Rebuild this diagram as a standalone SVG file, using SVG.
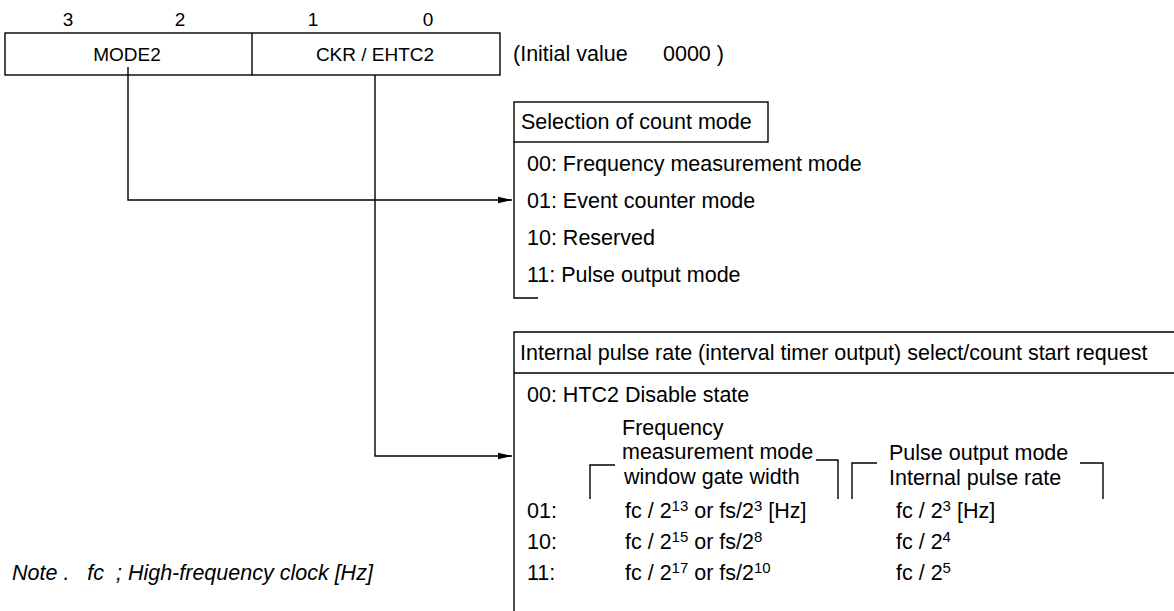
<svg xmlns="http://www.w3.org/2000/svg" width="1174" height="611" viewBox="0 0 1174 611">
<style>
text{font-family:"Liberation Sans",Arial,sans-serif;fill:#000;font-size:21.5px}
.reg{font-size:19px}
.it{font-style:italic}
.ln{fill:none;stroke:#000;stroke-width:1.4}
</style>
<defs>
<marker id="ah" markerWidth="14" markerHeight="8" refX="14" refY="4" orient="auto" markerUnits="userSpaceOnUse">
<path d="M0,0.8 L14,4 L0,7.2 Z" fill="#000"/>
</marker>
</defs>
<rect width="1174" height="611" fill="#fff"/>

<g id="register">
<text class="reg" x="68" y="26" text-anchor="middle">3</text>
<text class="reg" x="180" y="26" text-anchor="middle">2</text>
<text class="reg" x="313" y="26" text-anchor="middle">1</text>
<text class="reg" x="428" y="26" text-anchor="middle">0</text>
<rect class="ln" x="5" y="33" width="495" height="42"/>
<line class="ln" x1="252" y1="33" x2="252" y2="75"/>
<text class="reg" x="127" y="61" text-anchor="middle">MODE2</text>
<text class="reg" x="375" y="61" text-anchor="middle">CKR / EHTC2</text>
<text x="513" y="61">(Initial value<tspan x="663">0000 )</tspan></text>
</g>

<g id="count-mode">
<rect class="ln" x="514" y="102" width="254" height="40"/>
<text x="521" y="129">Selection of count mode</text>
<path class="ln" d="M514,142 V298 H538"/>
<text x="527" y="171">00: Frequency measurement mode</text>
<text x="527" y="208">01: Event counter mode</text>
<text x="527" y="245">10: Reserved</text>
<text x="527" y="282">11: Pulse output mode</text>
</g>

<g id="pulse-rate">
<path class="ln" d="M1174,332 H514 V611"/>
<line class="ln" x1="514" y1="373" x2="1174" y2="373"/>
<text x="520" y="360">Internal pulse rate (interval timer output) select/count start request</text>
<text x="527" y="402">00: HTC2 Disable state</text>
<text x="622" y="435">Frequency</text>
<text x="622" y="459">measurement mode</text>
<text x="624" y="484">window gate width</text>
<text x="889" y="460">Pulse output mode</text>
<text x="889" y="485">Internal pulse rate</text>
<path class="ln" d="M590,499 V465 H615"/>
<path class="ln" d="M816,460 H838 V499"/>
<path class="ln" d="M852,499 V463 H877"/>
<path class="ln" d="M1080,463 H1103 V499"/>
<text x="527" y="518">01:</text>
<text x="625" y="518">fc / 2<tspan dy="-7" font-size="15">13</tspan><tspan dy="7"> or fs/2</tspan><tspan dy="-7" font-size="15">3</tspan><tspan dy="7"> [Hz]</tspan></text>
<text x="896" y="518">fc / 2<tspan dy="-7" font-size="15">3</tspan><tspan dy="7"> [Hz]</tspan></text>
<text x="527" y="549">10:</text>
<text x="625" y="549">fc / 2<tspan dy="-7" font-size="15">15</tspan><tspan dy="7"> or fs/2</tspan><tspan dy="-7" font-size="15">8</tspan></text>
<text x="896" y="549">fc / 2<tspan dy="-7" font-size="15">4</tspan></text>
<text x="527" y="580">11:</text>
<text x="625" y="580">fc / 2<tspan dy="-7" font-size="15">17</tspan><tspan dy="7"> or fs/2</tspan><tspan dy="-7" font-size="15">10</tspan></text>
<text x="896" y="580">fc / 2<tspan dy="-7" font-size="15">5</tspan></text>
</g>

<g id="note">
<text class="it" x="12" y="580" xml:space="preserve">Note .   fc  ; High-frequency clock [Hz]</text>
</g>

<g id="connectors">
<path class="ln" d="M128,67 V200 H512" marker-end="url(#ah)"/>
<path class="ln" d="M375,75 V456 H512" marker-end="url(#ah)"/>
</g>
</svg>
